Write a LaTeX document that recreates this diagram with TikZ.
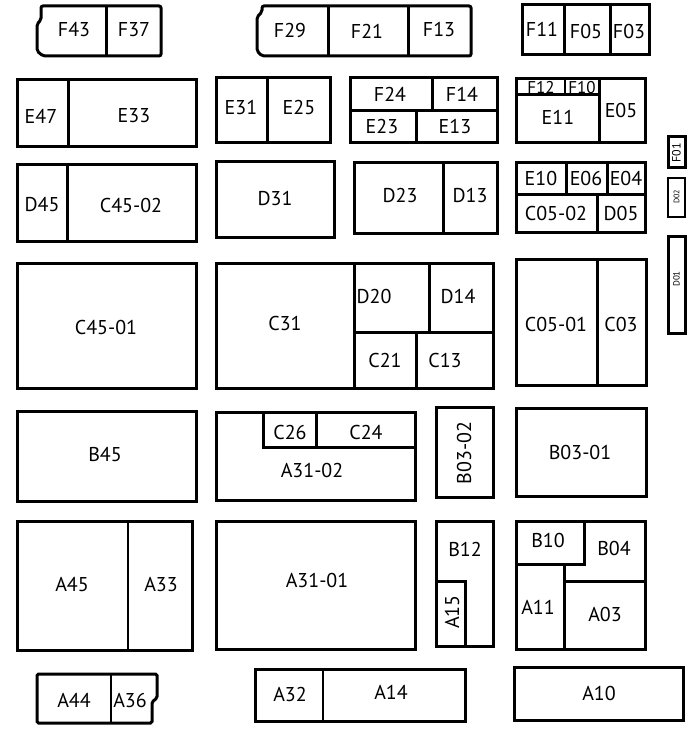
\documentclass[tikz,border=0pt]{standalone}
\usepackage{fontspec}
\setmainfont{PT Sans}
\usepackage{tikz}

\begin{document}
\begin{tikzpicture}[x=1pt,y=-1pt,
  wall/.style={line width=3pt,line join=miter},
  thin/.style={line width=2.2pt},
  lbl/.style={font=\fontsize{20}{20}\selectfont,inner sep=0pt},
  sml/.style={font=\fontsize{17}{17}\selectfont,inner sep=0pt},
  lblr/.style={lbl,rotate=90},
  tny/.style={font=\fontsize{12}{12}\selectfont,inner sep=0pt,rotate=90}]
  \useasboundingbox (0,0) rectangle (690,735);
  % row F
  \draw[wall,rounded corners=2pt] (41,6) -- (161,6) -- (161,56) -- (43,56) -- (37,51) -- (37,24) -- (41,20) -- cycle;
  \draw[wall] (106,6) -- (106,56);
  \node[lbl] (f43) at (74,30) {F43};
  \node[lbl] (f37) at (134,30) {F37};
  \draw[wall,rounded corners=2pt] (262,6) -- (471,6) -- (471,56) -- (262,56) -- (257,51) -- (257,17) -- (262,12) -- cycle;
  \draw[wall] (328,6) -- (328,56) (408,6) -- (408,56);
  \node[lbl] (f29) at (290,31) {F29};
  \node[lbl] (f21) at (367,31) {F21};
  \node[lbl] (f13) at (439,30) {F13};
  \draw[wall] (522,5) rectangle (649,55);
  \draw[wall] (564,5) -- (564,55) (610,5) -- (610,55);
  \node[lbl] (f11) at (542,29) {F11};
  \node[lbl] (f05) at (586,32) {F05};
  \node[lbl] (f03) at (629,32) {F03};
  % row E
  \draw[wall] (17,80) rectangle (196,147);
  \draw[wall] (68,80) -- (68,147);
  \node[lbl] (e47) at (41,116) {E47};
  \node[lbl] (e33) at (134,116) {E33};
  \draw[wall] (216,78) rectangle (330,143);
  \draw[wall] (267,78) -- (267,143);
  \node[lbl] (e31) at (241,108) {E31};
  \node[lbl] (e25) at (299,108) {E25};
  \draw[wall] (350,78) rectangle (497,143);
  \draw[wall] (350,111) -- (497,111) (432,78) -- (432,111) (416,111) -- (416,143);
  \node[lbl] (f24) at (390,94) {F24};
  \node[lbl] (f14) at (462,94) {F14};
  \node[lbl] (e23) at (382,127) {E23};
  \node[lbl] (e13) at (455,127) {E13};
  \draw[wall] (516,79) rectangle (645,143);
  \draw[wall] (599,79) -- (599,143) (516,95) -- (599,95);
  \draw[thin] (565,79) -- (565,95);
  \begin{scope}
    \clip (517,80) rectangle (598,94);
    \node[sml,anchor=base] (f12) at (541,94) {F12};
    \node[sml,anchor=base] (f10) at (582,94) {F10};
  \end{scope}
  \node[lbl] (e11) at (558,117) {E11};
  \node[lbl] (e05) at (621,111) {E05};
  \draw[wall] (668,137) rectangle (685,168);
  \node[tny] (f01) at (676.5,153) {F01};
  \draw[thin] (668,178) rectangle (685,217);
  \node[tny,font=\fontsize{8}{8}\selectfont] (d02) at (676.5,197) {D02};
  % row D
  \draw[wall] (17,165) rectangle (196,241);
  \draw[wall] (67,165) -- (67,241);
  \node[lbl] (d45) at (42,205) {D45};
  \node[lbl] (c4502) at (131,205) {C45-02};
  \draw[wall] (216,162) rectangle (334,237);
  \node[lbl] (d31) at (275,198) {D31};
  \draw[wall] (354,163) rectangle (497,233);
  \draw[wall] (443,163) -- (443,233);
  \node[lbl] (d23) at (400,196) {D23};
  \node[lbl] (d13) at (470,196) {D13};
  \draw[wall] (516,163) rectangle (645,232);
  \draw[wall] (516,195) -- (645,195) (566,163) -- (566,195) (607,163) -- (607,195) (597,195) -- (597,232);
  \node[lbl] (e10) at (541,179) {E10};
  \node[lbl] (e06) at (586,179) {E06};
  \node[lbl] (e04) at (626,179) {E04};
  \node[lbl] (c0502) at (556,214) {C05-02};
  \node[lbl] (d05) at (621,214) {D05};
  \draw[wall] (668,236) rectangle (685,333);
  \node[tny,font=\fontsize{9}{9}\selectfont] (d01) at (676.5,279) {D01};
  % row C
  \draw[wall] (17,263) rectangle (196,388);
  \node[lbl] (c4501) at (106,327) {C45-01};
  \draw[wall] (216,263) rectangle (493,388);
  \draw[wall] (354,263) -- (354,388) (354,332) -- (493,332) (429,263) -- (429,332) (416,332) -- (416,388);
  \node[lbl] (c31) at (285,323) {C31};
  \node[lbl] (d20) at (374,296) {D20};
  \node[lbl] (d14) at (458,296) {D14};
  \node[lbl] (c21) at (385,360) {C21};
  \node[lbl] (c13) at (445,360) {C13};
  \draw[wall] (516,259) rectangle (646,385);
  \draw[wall] (597,259) -- (597,385);
  \node[lbl] (c0501) at (556,324) {C05-01};
  \node[lbl] (c03) at (621,324) {C03};
  % row B
  \draw[wall] (17,411) rectangle (196,501);
  \node[lbl] (b45) at (105,455) {B45};
  \draw[wall] (216,412) rectangle (415,500);
  \draw[wall] (263,412) -- (263,447) -- (415,447) (316,412) -- (316,447);
  \node[lbl] (c26) at (290,432) {C26};
  \node[lbl] (c24) at (366,432) {C24};
  \node[lbl] (a3102) at (312,470) {A31-02};
  \draw[wall] (436,407) rectangle (493,497);
  \node[lblr] (b0302) at (464,453) {B03-02};
  \draw[wall] (516,408) rectangle (646,496);
  \node[lbl] (b0301) at (580,452) {B03-01};
  % row A
  \draw[wall] (17,521) rectangle (192,650);
  \draw[thin] (128,521) -- (128,650);
  \node[lbl] (a45) at (72,585) {A45};
  \node[lbl] (a33) at (161,585) {A33};
  \draw[wall] (216,521) rectangle (415,649);
  \node[lbl] (a3101) at (317,580) {A31-01};
  \draw[wall] (436,521) rectangle (493,646);
  \draw[wall] (436,581) -- (465,581) -- (465,646);
  \node[lbl] (b12) at (465,549) {B12};
  \node[lblr] (a15) at (452,612) {A15};
  \draw[wall] (516,521) rectangle (645,649);
  \draw[wall] (516,564) -- (584,564) -- (584,521) (564,564) -- (564,649) (564,581) -- (645,581);
  \node[lbl] (b10) at (548,540) {B10};
  \node[lbl] (b04) at (614,548) {B04};
  \node[lbl] (a11) at (538,607) {A11};
  \node[lbl] (a03) at (605,614) {A03};
  % bottom row
  \draw[wall,rounded corners=1.5pt] (37,674) -- (157,674) -- (157,698) -- (152,702) -- (152,723) -- (37,723) -- cycle;
  \draw[thin] (111,674) -- (111,723);
  \node[lbl] (a44) at (74,700) {A44};
  \node[lbl] (a36) at (130,700) {A36};
  \draw[wall] (255,669) rectangle (465,721);
  \draw[thin] (323,669) -- (323,721);
  \node[lbl] (a32) at (290,694) {A32};
  \node[lbl] (a14) at (391,692) {A14};
  \draw[wall] (514,667) rectangle (683,720);
  \node[lbl] (a10) at (599,693) {A10};
\end{tikzpicture}
\end{document}
